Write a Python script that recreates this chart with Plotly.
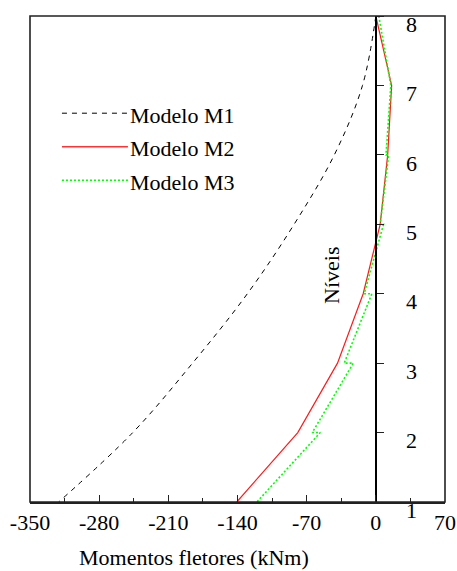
import plotly.graph_objects as go

# Levels (Níveis)
levels = [8, 7, 6, 5, 4, 3, 2, 1]

# Modelo M1 - bending moments (kNm)
m1_values = [0, -13.5, -42, -82.7, -130, -185.5, -246, -321]

# Modelo M2
m2_values = [0, 16, 12, 4.4, -12.8, -38.8, -79, -140.7]

# Modelo M3 (small jump at each floor: value above / value below)
m3_levels = [8, 7, 6, 6, 5, 5, 4, 4, 3, 3, 2, 2, 1]
m3_values = [3, 15.2, 10.3, 13, 4.4, 7.8, -11.8, -4, -32, -22.8, -64.3, -56.2, -120.4]

x_ticks = [-350, -280, -210, -140, -70, 0, 70]
y_ticks = [1, 2, 3, 4, 5, 6, 7, 8]

series_names = ["Modelo M1", "Modelo M2", "Modelo M3"]

FONT = "Times New Roman, Liberation Serif, Tinos, DejaVu Serif"
FS = 22

fig = go.Figure()
fig.add_trace(go.Scatter(x=m1_values, y=levels, mode="lines", name=series_names[0],
                         line=dict(color="black", width=1, dash="5px,5px", shape="spline"),
                         showlegend=False))
fig.add_trace(go.Scatter(x=m2_values, y=levels, mode="lines", name=series_names[1],
                         line=dict(color="#ff1a1a", width=1.2), showlegend=False))
fig.add_trace(go.Scatter(x=m3_values, y=m3_levels, mode="lines", name=series_names[2],
                         line=dict(color="#00ff00", width=1.6, dash="2px,2px"),
                         showlegend=False))

# manual legend
legend_styles = [
    dict(color="black", width=1, dash="5px,5px"),
    dict(color="#ff3333", width=1.3),
    dict(color="#00ff00", width=1.6, dash="2px,2px"),
]
legend_y = [0.800, 0.731, 0.662]
shapes = []
annotations = []
for name, st, ly in zip(series_names, legend_styles, legend_y):
    shapes.append(dict(type="line", xref="paper", yref="paper", x0=0.077, x1=0.236,
                       y0=ly, y1=ly, line=st))
    annotations.append(dict(text=name, xref="paper", yref="paper", x=0.237, y=ly - 0.004,
                            xanchor="left", yanchor="middle", showarrow=False,
                            font=dict(family=FONT, size=FS, color="black")))

# frame
shapes.append(dict(type="rect", xref="paper", yref="paper", x0=0, x1=1, y0=0, y1=1,
                   line=dict(color="#222", width=1.6), layer="above"))

annotations.append(dict(text="Momentos fletores (kNm)", xref="x", yref="paper",
                        x=-184, y=-0.115, xanchor="center", yanchor="middle",
                        showarrow=False, font=dict(family=FONT, size=FS, color="black")))
annotations.append(dict(text="Níveis", xref="x", yref="paper", x=-45.5, y=0.467,
                        textangle=-90, xanchor="center", yanchor="middle",
                        showarrow=False, font=dict(family=FONT, size=FS, color="black")))

fig.update_layout(
    width=457, height=571,
    margin=dict(l=30, r=12, t=16, b=69, autoexpand=False),
    paper_bgcolor="white", plot_bgcolor="white",
    font=dict(family=FONT, size=FS, color="black"),
    shapes=shapes, annotations=annotations,
    showlegend=False,
    xaxis=dict(range=[-350, 70], tickvals=x_ticks, ticktext=[str(v) for v in x_ticks],
               ticks="inside", ticklen=7, tickwidth=1.3, tickcolor="#222",
               minor=dict(dtick=35, tick0=0, ticks="inside", ticklen=4, tickwidth=1.2, tickcolor="#222"),
               showline=True, linecolor="#222", linewidth=1.6, showgrid=False, zeroline=False,
               tickfont=dict(family=FONT, size=FS), fixedrange=True, automargin=False),
    yaxis=dict(range=[1, 8], tickvals=y_ticks, ticktext=[str(v) for v in y_ticks],
               anchor="free", position=(350/420), side="right",
               ticks="outside", ticklen=7, tickwidth=1.3, tickcolor="#222",
               showline=True, linecolor="black", linewidth=1.6, showgrid=False, zeroline=False,
               ticklabelstandoff=18, ticklabelshift=8,
               tickfont=dict(family=FONT, size=FS), fixedrange=True, automargin=False),
)

fig.write_html(
    "out.html",
    config={"displayModeBar": False},
    post_script="document.body.style.margin='0';document.body.style.overflow='hidden';",
)
